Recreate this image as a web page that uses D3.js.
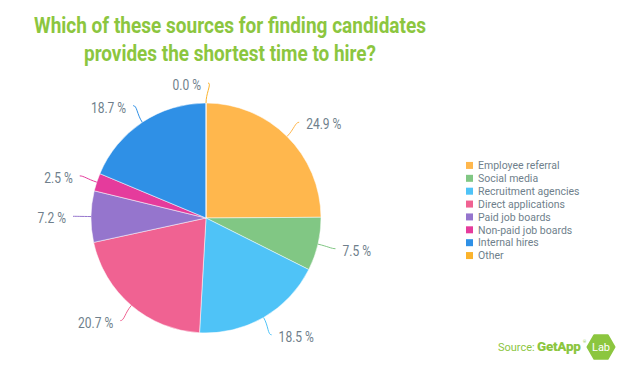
<!DOCTYPE html>
<html>
<head>
<meta charset="utf-8">
<script src="https://cdn.jsdelivr.net/npm/d3@7"></script>
<style>
	html, body { margin: 0; padding: 0; background: #fff; }
	svg { display: block; font-family: Roboto, "Noto Sans", sans-serif; }
</style>
</head>
<body>
<script>
// chart data
var categories = ["Employee referral", "Social media", "Recruitment agencies", "Direct applications",
	"Paid job boards", "Non-paid job boards", "Internal hires", "Other"];
var shares = [24.9, 7.5, 18.5, 20.7, 7.2, 2.5, 18.7, 0.0];
var colors = ["#ffb74d", "#81c784", "#4fc3f7", "#f06292", "#9575cd", "#e53b9c", "#2f90e6", "#fbb32c"];
var titleLines = ["Which of these sources for finding candidates", "provides the shortest time to hire?"];

(function(){
	var W = 621, H = 365,
		cx = 206, cy = 218, r = 115,
		green = "#8cc63f", grey = "#6f7f8c";

	var svg = d3.select("body").append("svg").attr("width", W).attr("height", H);

	// title
	var tl = [{t: titleLines[0], y: 33, w: 392}, {t: titleLines[1], y: 61, w: 292}];
	svg.selectAll(".title").data(tl).enter().append("text")
		.attr("class", "title")
		.attr("x", 230).attr("y", function(d){ return d.y; })
		.attr("text-anchor", "middle")
		.attr("font-size", 22).attr("font-weight", 700)
		.attr("fill", green)
		.attr("textLength", function(d){ return d.w; })
		.attr("lengthAdjust", "spacingAndGlyphs")
		.text(function(d){ return d.t; });

	// pie
	var pie = d3.pie().sort(null).value(function(d){ return d; });
	var arcs = pie(shares);
	var arc = d3.arc().innerRadius(0).outerRadius(r);
	var g = svg.append("g").attr("transform", "translate(" + cx + "," + cy + ")");

	g.selectAll("path.slice").data(arcs).enter().append("path")
		.attr("class", "slice")
		.attr("d", arc)
		.attr("fill", function(d, i){ return colors[i]; })
		.attr("stroke", "#fff").attr("stroke-width", 0.5);

	// labels + connectors
	function pt(a, rad){ return [Math.sin(a) * rad, -Math.cos(a) * rad]; }
	function mid(d){ return (d.startAngle + d.endAngle) / 2; }
	var lab = g.selectAll("g.lab").data(arcs).enter().append("g").attr("class", "lab");
	lab.append("path")
		.attr("fill", "none")
		.attr("stroke", function(d, i){ return colors[i]; })
		.attr("stroke-width", 1)
		.attr("d", function(d){
			var a = mid(d),
				left = a > Math.PI,
				e = pt(a, r), b = pt(a, r + 10), l = pt(a, r + 20);
			return "M" + (l[0] + (left ? 2 : -2)) + "," + l[1] +
				"C" + (l[0] + (left ? 6 : -6)) + "," + l[1] + " " + b[0] + "," + b[1] + " " + e[0] + "," + e[1];
		});
	// condensed look: slightly narrowed glyphs
	lab.append("text")
		.attr("transform", function(d){
			var a = mid(d), l = pt(a, r + 20);
			return "translate(" + (l[0] + (a > Math.PI ? -5 : 5)) + "," + (l[1] + 2) + ") scale(0.86,1)";
		})
		.attr("dy", "0.35em")
		.attr("text-anchor", function(d){ return mid(d) > Math.PI ? "end" : "start"; })
		.attr("font-size", 14)
		.attr("fill", grey)
		.text(function(d){ return d.data.toFixed(1) + " %"; });

	// legend
	var ly = d3.scaleBand().domain(categories).range([159, 262]);
	var leg = svg.append("g").selectAll("g").data(categories).enter().append("g")
		.attr("transform", function(d){ return "translate(466," + (ly(d) + ly.bandwidth() / 2) + ")"; });
	leg.append("rect").attr("x", 0).attr("y", -3.5).attr("width", 7).attr("height", 7)
		.attr("fill", function(d, i){ return colors[i]; });
	leg.append("text").attr("x", 12).attr("dy", "0.35em")
		.attr("font-size", 10.5).attr("fill", grey)
		.text(function(d){ return d; });

	// source
	var src = svg.append("g");
	src.append("text").attr("x", 498).attr("y", 351)
		.attr("font-size", 11).attr("fill", green).text("Source:");
	src.append("text").attr("x", 537).attr("y", 351)
		.attr("font-size", 13.5).attr("font-weight", 900).attr("fill", green).attr("letter-spacing", -0.3).text("GetApp");
	src.append("text").attr("x", 583).attr("y", 343)
		.attr("font-size", 4).attr("fill", green).text("®");
	var hx = 601, hy = 347, hr = 13.5;
	var hex = d3.range(6).map(function(k){
		var a = Math.PI / 3 * k;
		return [hx + hr * Math.cos(a), hy + hr * Math.sin(a)];
	});
	src.append("path").attr("d", d3.line().curve(d3.curveLinearClosed)(hex))
		.attr("fill", green).attr("stroke", green).attr("stroke-width", 2).attr("stroke-linejoin", "round");
	src.append("text").attr("x", hx).attr("y", hy).attr("dy", "0.35em")
		.attr("text-anchor", "middle").attr("font-size", 11).attr("fill", "#fff").text("Lab");
})();
</script>
</body>
</html>
